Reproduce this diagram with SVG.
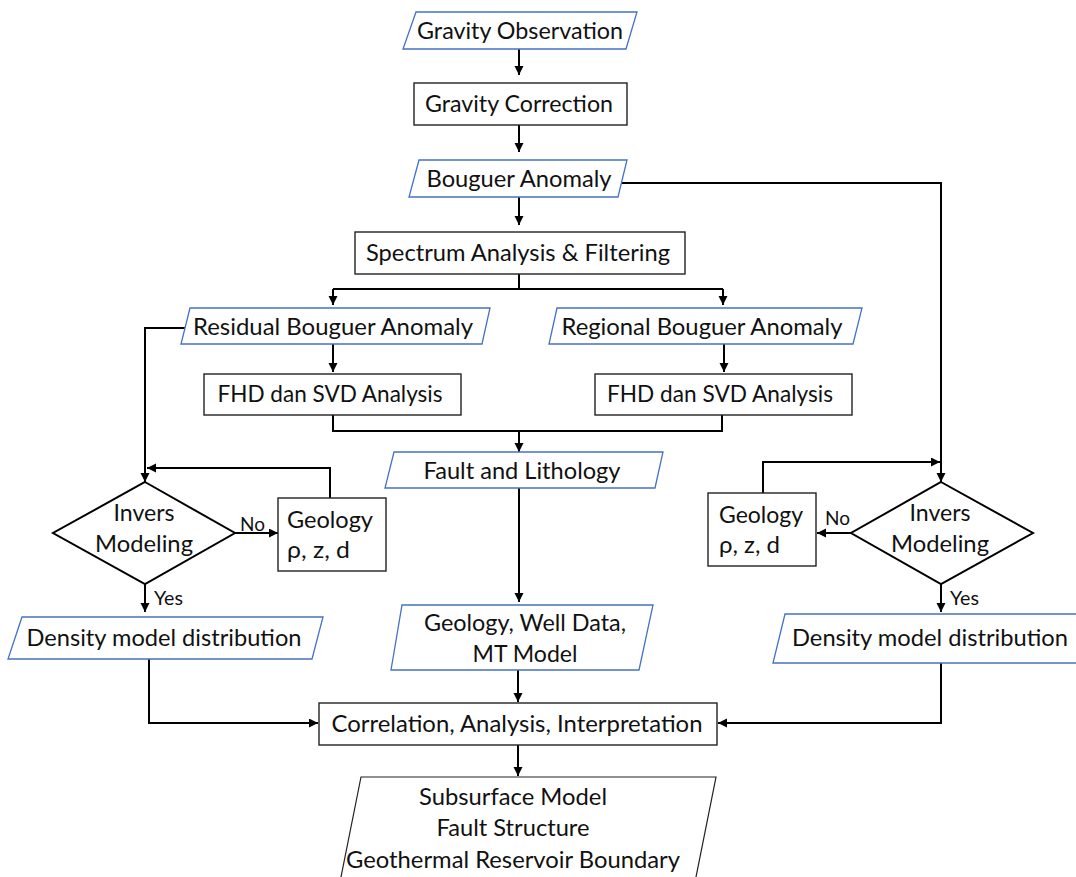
<svg xmlns="http://www.w3.org/2000/svg" width="1076" height="877" viewBox="0 0 1076 877">
<defs>
<marker id="ah" markerUnits="userSpaceOnUse" markerWidth="10" markerHeight="10" refX="9" refY="4.5" orient="auto">
<path d="M0,0 L9,4.5 L0,9 z" fill="#000"/>
</marker>
<style>
.io{fill:#fff;stroke:#4472C4;stroke-width:1.3}
.box{fill:#fff;stroke:#222;stroke-width:1.4}
.dia{fill:#fff;stroke:#000;stroke-width:2}
.out{fill:#fff;stroke:#222;stroke-width:1.2}
.t{font-family:Lato,"Open Sans","Liberation Sans",sans-serif;font-size:22.5px;fill:#111}
.c{text-anchor:middle}
.s{font-family:Lato,"Open Sans","Liberation Sans",sans-serif;font-size:19px;fill:#111}
.ln{fill:none;stroke:#000;stroke-width:2}
.ar{fill:none;stroke:#000;stroke-width:2;marker-end:url(#ah)}
</style>
</defs>
<rect width="1076" height="877" fill="#fff"/>
<g id="connectors">
<path class="ar" d="M519,49 V75"/>
<path class="ar" d="M519,125 V152"/>
<path class="ar" d="M622,183 H941 V482"/>
<path class="ar" d="M519,197 V225"/>
<path class="ln" d="M519,274 V289 M333,289 H723"/>
<path class="ar" d="M333,289 V305"/>
<path class="ar" d="M723,289 V305"/>
<path class="ar" d="M185,328 H145 V482"/>
<path class="ar" d="M333,344 V372"/>
<path class="ar" d="M724,344 V372"/>
<path class="ln" d="M333,415 V431 H722 V415"/>
<path class="ar" d="M519,431 V452"/>
<path class="ar" d="M519,488 V602"/>
<path class="ar" d="M235,533 H278"/>
<path class="ar" d="M330,498 V468 H147"/>
<path class="ar" d="M145,584 V612"/>
<path class="ar" d="M149,659 V723 H318"/>
<path class="ar" d="M851,533 H817"/>
<path class="ar" d="M763,493 V462 H940"/>
<path class="ar" d="M941,584 V612"/>
<path class="ar" d="M941,663 V723 H718"/>
<path class="ar" d="M518,670 V702"/>
<path class="ar" d="M518,745 V776"/>
</g>
<g id="n-gravity-obs">
<polygon class="io" points="416,12 637,12 626,49 403,49"/>
<text class="t c" x="520" y="39" textLength="206" lengthAdjust="spacingAndGlyphs">Gravity Observation</text>
</g>
<g id="n-gravity-corr">
<rect class="box" x="414" y="83" width="213" height="42"/>
<text class="t c" x="519" y="112" textLength="188" lengthAdjust="spacingAndGlyphs">Gravity Correction</text>
</g>
<g id="n-bouguer">
<polygon class="io" points="419,160 627,160 618,197 409,197"/>
<text class="t c" x="519" y="187" textLength="185" lengthAdjust="spacingAndGlyphs">Bouguer Anomaly</text>
</g>
<g id="n-spectrum">
<rect class="box" x="355" y="232" width="330" height="42"/>
<text class="t c" x="518" y="261" textLength="304" lengthAdjust="spacingAndGlyphs">Spectrum Analysis &amp; Filtering</text>
</g>
<g id="n-residual">
<polygon class="io" points="190,308 490,308 482,344 181,344"/>
<text class="t c" x="333" y="335" textLength="280" lengthAdjust="spacingAndGlyphs">Residual Bouguer Anomaly</text>
</g>
<g id="n-regional">
<polygon class="io" points="557,308 862,308 853,344 549,344"/>
<text class="t c" x="702" y="335" textLength="281" lengthAdjust="spacingAndGlyphs">Regional Bouguer Anomaly</text>
</g>
<g id="n-fhd-left">
<rect class="box" x="204" y="374" width="257" height="41"/>
<text class="t c" x="330" y="402" textLength="225" lengthAdjust="spacingAndGlyphs">FHD dan SVD Analysis</text>
</g>
<g id="n-fhd-right">
<rect class="box" x="595" y="374" width="257" height="41"/>
<text class="t c" x="720" y="402" textLength="226" lengthAdjust="spacingAndGlyphs">FHD dan SVD Analysis</text>
</g>
<g id="n-fault">
<polygon class="io" points="394,452 663,452 655,488 385,488"/>
<text class="t c" x="522" y="479" textLength="197" lengthAdjust="spacingAndGlyphs">Fault and Lithology</text>
</g>
<g id="n-invers-left">
<polygon class="dia" points="145,482 235,533 145,584 53,533"/>
<text class="t c" x="144" y="521" textLength="61" lengthAdjust="spacingAndGlyphs">Invers</text>
<text class="t c" x="144" y="552" textLength="98" lengthAdjust="spacingAndGlyphs">Modeling</text>
<text class="s" x="240" y="531" textLength="25" lengthAdjust="spacingAndGlyphs">No</text>
<text class="s" x="154" y="605" textLength="29" lengthAdjust="spacingAndGlyphs">Yes</text>
</g>
<g id="n-geology-left">
<rect class="box" x="278" y="498" width="108" height="73"/>
<text class="t" x="287" y="528" textLength="86" lengthAdjust="spacingAndGlyphs">Geology</text>
<text class="t" x="287" y="558" textLength="63" lengthAdjust="spacingAndGlyphs">ρ, z, d</text>
</g>
<g id="n-density-left">
<polygon class="io" points="22,617 323,617 312,659 8,659"/>
<text class="t c" x="164" y="646" textLength="275" lengthAdjust="spacingAndGlyphs">Density model distribution</text>
</g>
<g id="n-invers-right">
<polygon class="dia" points="941,482 1033,533 941,584 851,533"/>
<text class="t c" x="940" y="521" textLength="61" lengthAdjust="spacingAndGlyphs">Invers</text>
<text class="t c" x="940" y="552" textLength="98" lengthAdjust="spacingAndGlyphs">Modeling</text>
<text class="s" x="825" y="525" textLength="25" lengthAdjust="spacingAndGlyphs">No</text>
<text class="s" x="950" y="605" textLength="29" lengthAdjust="spacingAndGlyphs">Yes</text>
</g>
<g id="n-geology-right">
<rect class="box" x="708" y="493" width="108" height="73"/>
<text class="t" x="719" y="523" textLength="84" lengthAdjust="spacingAndGlyphs">Geology</text>
<text class="t" x="719" y="553" textLength="61" lengthAdjust="spacingAndGlyphs">ρ, z, d</text>
</g>
<g id="n-density-right">
<polygon class="io" points="785,614 1095,614 1085,663 773,663"/>
<text class="t c" x="930" y="646" textLength="276" lengthAdjust="spacingAndGlyphs">Density model distribution</text>
</g>
<g id="n-geology-well">
<polygon class="io" points="402,605 653,605 639,670 391,670"/>
<text class="t c" x="525" y="631" textLength="202" lengthAdjust="spacingAndGlyphs">Geology, Well Data,</text>
<text class="t c" x="525" y="662" textLength="105" lengthAdjust="spacingAndGlyphs">MT Model</text>
</g>
<g id="n-correlation">
<rect class="box" x="319" y="703" width="398" height="42"/>
<text class="t c" x="517" y="732" textLength="371" lengthAdjust="spacingAndGlyphs">Correlation, Analysis, Interpretation</text>
</g>
<g id="n-output">
<polygon class="out" points="361,777 716,777 694,887 339,887"/>
<text class="t c" x="513" y="805" textLength="188" lengthAdjust="spacingAndGlyphs">Subsurface Model</text>
<text class="t c" x="513" y="836" textLength="153" lengthAdjust="spacingAndGlyphs">Fault Structure</text>
<text class="t c" x="513" y="868" textLength="334" lengthAdjust="spacingAndGlyphs">Geothermal Reservoir Boundary</text>
</g>
</svg>
